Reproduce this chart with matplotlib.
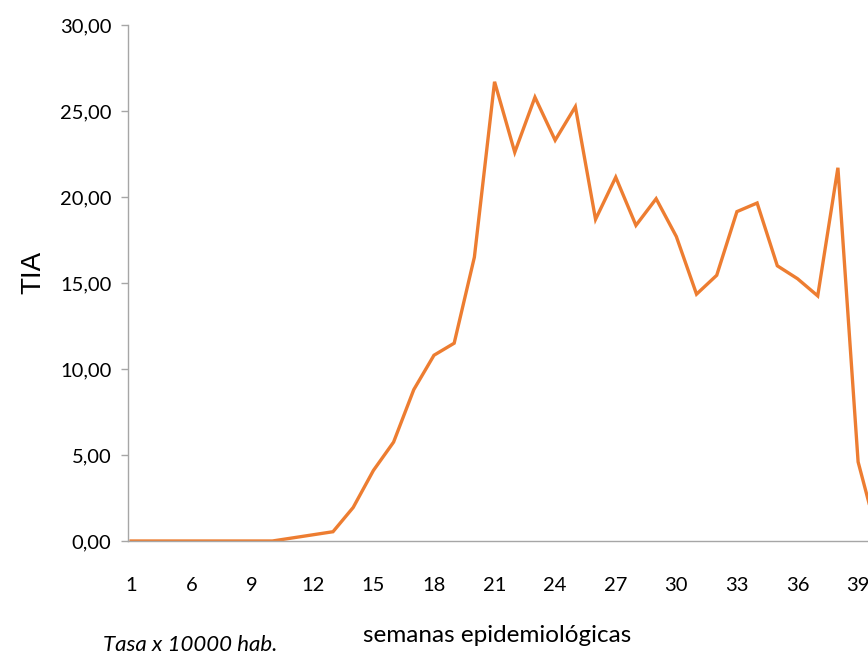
import matplotlib
matplotlib.use("Agg")
import matplotlib.pyplot as plt

# ---------------- Data ----------------
# category labels (Excel category axis, one label every 3 categories)
semanas = [1, 4, 5, 6, 7, 8, 9, 10, 11, 12, 13, 14, 15, 16, 17, 18, 19, 20, 21,
           22, 23, 24, 25, 26, 27, 28, 29, 30, 31, 32, 33, 34, 35, 36, 37, 38,
           39, 40]
tia = [0.00, 0.00, 0.00, 0.00, 0.00, 0.00, 0.00, 0.00, 0.18, 0.36, 0.54, 1.95,
       4.10, 5.75, 8.80, 10.80, 11.50, 16.50, 26.70, 22.60, 25.80, 23.30, 25.25,
       18.70, 21.15, 18.35, 19.90, 17.70, 14.35, 15.45, 19.15, 19.65, 16.00,
       15.25, 14.25, 21.70, 4.60, 0.15]

# ---------------- Figure ----------------
W, H = 868, 656
fig = plt.figure(figsize=(W / 100, H / 100), dpi=100)
ax = fig.add_axes([128 / W, (H - 541) / H, (W - 128) / W, (541 - 25) / H])

x = list(range(len(tia)))
ax.plot(x, tia, color="#ED7D31", linewidth=2.4, solid_joinstyle="miter")

ax.set_xlim(-0.15, 36.49)
ax.set_ylim(0, 30)

grey = "#A6A6A6"
for side in ["top", "right"]:
    ax.spines[side].set_visible(False)
for side in ["left", "bottom"]:
    ax.spines[side].set_color(grey)
    ax.spines[side].set_linewidth(1.0)

yticks = [0, 5, 10, 15, 20, 25, 30]
ax.set_yticks(yticks)
ax.set_yticklabels([f"{v:.2f}".replace(".", ",") for v in yticks],
                   fontsize=14.5, family="Lato")
ax.tick_params(axis="y", length=5, width=1, color=grey, pad=7)

tick_idx = list(range(0, len(semanas), 3))
ax.set_xticks(tick_idx)
ax.set_xticklabels([str(semanas[i]) for i in tick_idx], fontsize=14.5, family="Lato")
ax.tick_params(axis="x", length=0, pad=26)

# ---------------- Text ----------------
fig.text(33 / W, 1 - 272 / H, "TIA", rotation=90, ha="center", va="center",
         fontsize=20, family="Liberation Sans")
fig.text(497 / W, 1 - 635 / H, "semanas epidemiológicas", ha="center", va="center",
         fontsize=17.5, family="Lato")
fig.text(190 / W, 1 - 645 / H, "Tasa x 10000 hab.", ha="center", va="center",
         fontsize=16, family="Lato", style="italic")

fig.savefig("out.png", dpi=100)
